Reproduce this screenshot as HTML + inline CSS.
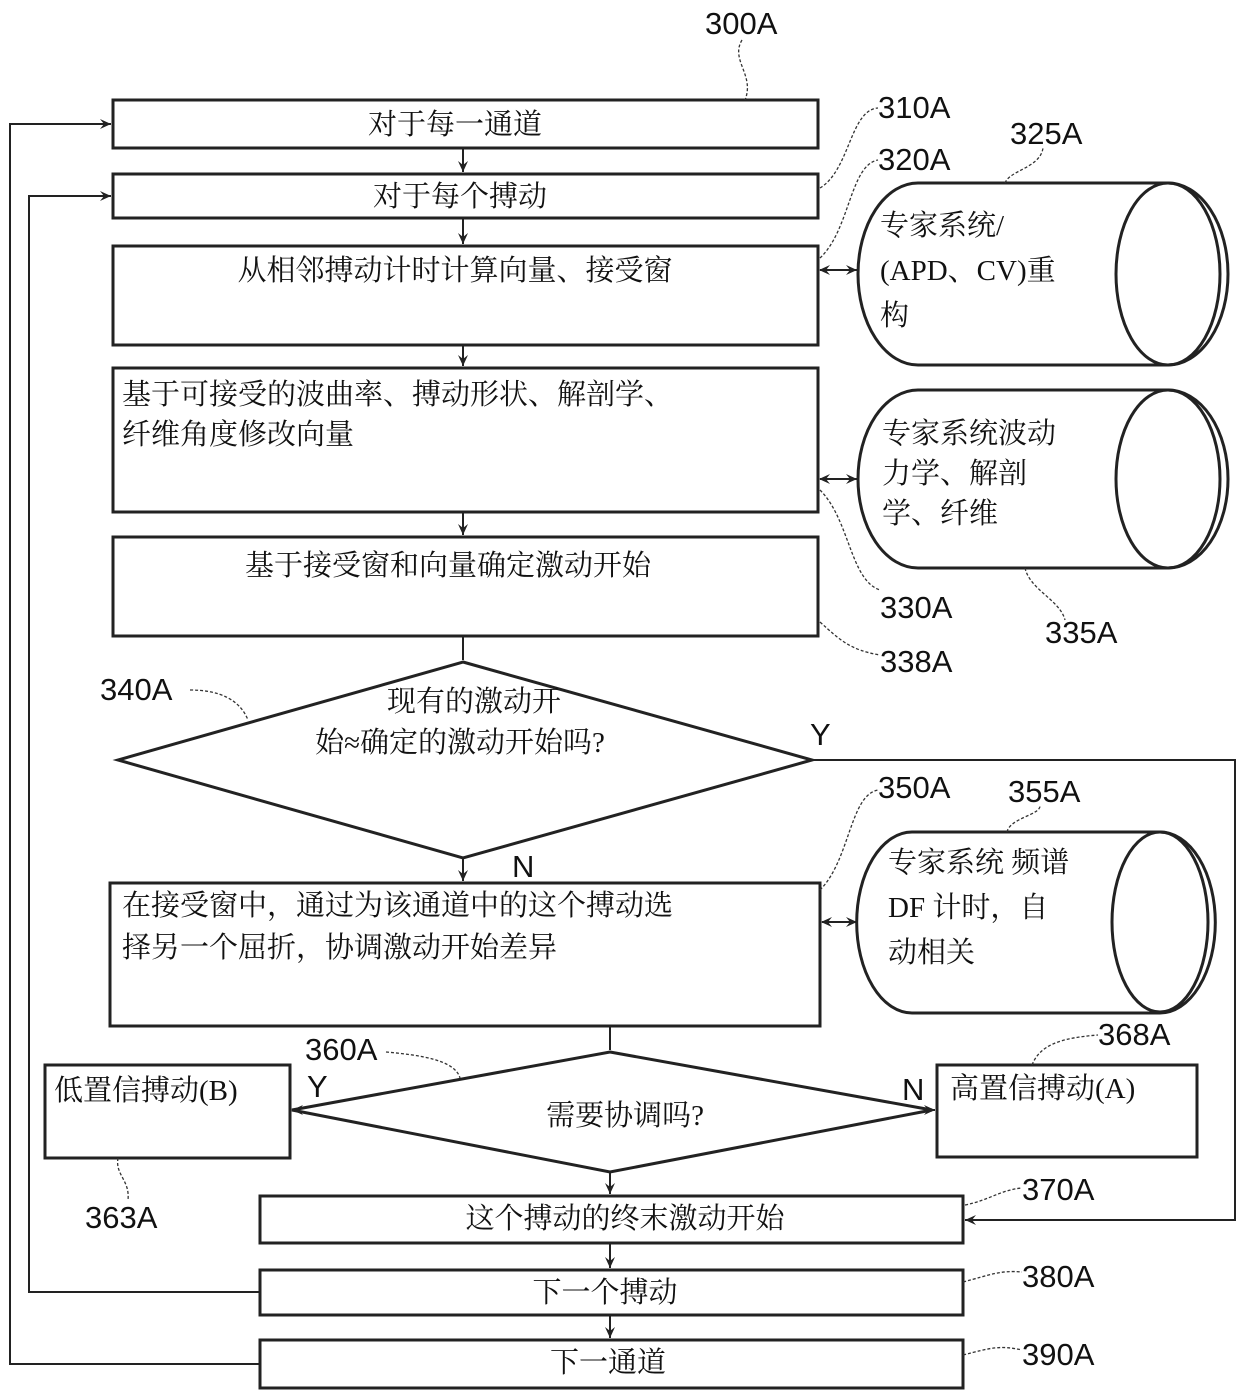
<!DOCTYPE html>
<html><head><meta charset="utf-8"><style>
html,body{margin:0;padding:0;background:#fff;}
svg{display:block;}
text{font-family:"Liberation Serif","Noto Serif CJK SC","Noto Sans CJK SC",serif;fill:#111;}
.lab{font-family:"Liberation Sans","DejaVu Sans",sans-serif;font-size:31px;}
.t{font-size:29px;}
</style></head><body>
<svg width="1240" height="1395" viewBox="0 0 1240 1395" xmlns="http://www.w3.org/2000/svg">
<defs>
<marker id="a" markerWidth="12" markerHeight="12" refX="11" refY="6" orient="auto" markerUnits="userSpaceOnUse">
<path d="M0,1 L11,6 L0,11 L4,6 Z" fill="#222"/></marker>
<marker id="as" markerWidth="12" markerHeight="12" refX="1" refY="6" orient="auto" markerUnits="userSpaceOnUse">
<path d="M11,1 L0,6 L11,11 L7,6 Z" fill="#222"/></marker>
</defs>
<g fill="none" stroke="#222" stroke-width="3">
<!-- boxes -->
<rect x="113" y="100" width="705" height="48"/>
<rect x="113" y="174" width="705" height="44"/>
<rect x="113" y="246" width="705" height="99"/>
<rect x="113" y="368" width="705" height="144"/>
<rect x="113" y="537" width="705" height="99"/>
<rect x="110" y="883" width="710" height="143"/>
<rect x="45" y="1065" width="245" height="93"/>
<rect x="937" y="1065" width="260" height="92"/>
<rect x="260" y="1196" width="703" height="47"/>
<rect x="260" y="1270" width="703" height="45"/>
<rect x="260" y="1340" width="703" height="48"/>
<!-- diamonds -->
<path d="M463,662 L812,760 L463,858 L118,760 Z"/>
<path d="M610,1052 L932,1110 L610,1172 L292,1110 Z"/>
<!-- cylinders -->
<path d="M918,183 L1168,183 A60,91 0 0 1 1168,365 L918,365 A60,91 0 0 1 918,183 Z"/>
<ellipse cx="1168" cy="274" rx="52" ry="91"/>
<path d="M918,390 L1168,390 A60,89 0 0 1 1168,568 L918,568 A60,89 0 0 1 918,390 Z"/>
<ellipse cx="1168" cy="479" rx="52" ry="89"/>
<path d="M912,832 L1160,832 A55,90 0 0 1 1160,1013 L912,1013 A55,90 0 0 1 912,832 Z"/>
<ellipse cx="1160" cy="922" rx="48" ry="90"/>
</g>
<g fill="none" stroke="#222" stroke-width="2">
<!-- vertical flow arrows -->
<line x1="463" y1="148" x2="463" y2="172" marker-end="url(#a)"/>
<line x1="463" y1="218" x2="463" y2="244" marker-end="url(#a)"/>
<line x1="463" y1="345" x2="463" y2="366" marker-end="url(#a)"/>
<line x1="463" y1="512" x2="463" y2="535" marker-end="url(#a)"/>
<line x1="463" y1="636" x2="463" y2="660"/>
<line x1="463" y1="858" x2="463" y2="881" marker-end="url(#a)"/>
<line x1="610" y1="1026" x2="610" y2="1050"/>
<line x1="610" y1="1172" x2="610" y2="1194" marker-end="url(#a)"/>
<line x1="610" y1="1243" x2="610" y2="1268" marker-end="url(#a)"/>
<line x1="610" y1="1315" x2="610" y2="1338" marker-end="url(#a)"/>
<!-- diamond 2 side arrows -->
<line x1="292" y1="1110" x2="292" y2="1110"/>
<line x1="300" y1="1110" x2="292" y2="1110" marker-end="url(#a)"/>
<line x1="925" y1="1110" x2="935" y2="1110" marker-end="url(#a)"/>
<!-- Y loop -->
<polyline points="812,760 1235,760 1235,1220 965,1220" marker-end="url(#a)"/>
<!-- left loops -->
<polyline points="260,1292 29,1292 29,196 111,196" marker-end="url(#a)"/>
<polyline points="260,1364 10,1364 10,124 111,124" marker-end="url(#a)"/>
<!-- double arrows to cylinders -->
<line x1="820" y1="270" x2="857" y2="270" marker-start="url(#as)" marker-end="url(#a)"/>
<line x1="820" y1="479" x2="857" y2="479" marker-start="url(#as)" marker-end="url(#a)"/>
<line x1="822" y1="922" x2="857" y2="922" marker-start="url(#as)" marker-end="url(#a)"/>
</g>
<!-- leader lines -->
<g fill="none" stroke="#333" stroke-width="1.3" stroke-dasharray="3,2">
<path d="M742,40 C730,60 755,75 745,100"/>
<path d="M820,188 C850,170 850,110 878,108"/>
<path d="M820,258 C850,230 850,165 878,160"/>
<path d="M1005,183 C1010,170 1040,168 1043,148"/>
<path d="M820,490 C850,520 850,580 880,590"/>
<path d="M1025,568 C1030,590 1060,600 1065,620"/>
<path d="M820,622 C840,640 850,650 880,655"/>
<path d="M190,690 C220,690 240,700 248,720"/>
<path d="M820,890 C850,860 850,795 878,790"/>
<path d="M1007,832 C1010,818 1040,815 1040,806"/>
<path d="M386,1052 C420,1055 455,1060 460,1078"/>
<path d="M1032,1065 C1040,1045 1060,1038 1098,1035"/>
<path d="M118,1158 C115,1175 130,1180 128,1200"/>
<path d="M965,1205 C990,1200 1000,1190 1022,1188"/>
<path d="M963,1282 C990,1275 1000,1270 1022,1272"/>
<path d="M963,1355 C990,1348 1000,1345 1022,1350"/>
</g>
<!-- ref labels -->
<text class="lab" x="705" y="34">300A</text>
<text class="lab" x="878" y="118">310A</text>
<text class="lab" x="878" y="170">320A</text>
<text class="lab" x="1010" y="144">325A</text>
<text class="lab" x="880" y="618">330A</text>
<text class="lab" x="1045" y="643">335A</text>
<text class="lab" x="880" y="672">338A</text>
<text class="lab" x="100" y="700">340A</text>
<text class="lab" x="878" y="798">350A</text>
<text class="lab" x="1008" y="802">355A</text>
<text class="lab" x="305" y="1060">360A</text>
<text class="lab" x="1098" y="1045">368A</text>
<text class="lab" x="85" y="1228">363A</text>
<text class="lab" x="1022" y="1200">370A</text>
<text class="lab" x="1022" y="1287">380A</text>
<text class="lab" x="1022" y="1365">390A</text>
<text class="lab" x="810" y="745">Y</text>
<text class="lab" x="512" y="877">N</text>
<text class="lab" x="307" y="1097">Y</text>
<text class="lab" x="902" y="1100">N</text>
<!-- node texts -->
<text class="t" x="455" y="134" text-anchor="middle">对于每一通道</text>
<text class="t" x="460" y="206" text-anchor="middle">对于每个搏动</text>
<text class="t" x="455" y="280" text-anchor="middle">从相邻搏动计时计算向量、接受窗</text>
<text class="t" x="122" y="404">基于可接受的波曲率、搏动形状、解剖学、</text>
<text class="t" x="122" y="444">纤维角度修改向量</text>
<text class="t" x="448" y="575" text-anchor="middle">基于接受窗和向量确定激动开始</text>
<text class="t" x="474" y="711" text-anchor="middle">现有的激动开</text>
<text class="t" x="460" y="752" text-anchor="middle">始≈确定的激动开始吗?</text>
<text class="t" x="122" y="915">在接受窗中，通过为该通道中的这个搏动选</text>
<text class="t" x="122" y="957">择另一个屈折，协调激动开始差异</text>
<text class="t" x="54" y="1100">低置信搏动(B)</text>
<text class="t" x="950" y="1098">高置信搏动(A)</text>
<text class="t" x="625" y="1125" text-anchor="middle">需要协调吗?</text>
<text class="t" x="625" y="1228" text-anchor="middle">这个搏动的终末激动开始</text>
<text class="t" x="605" y="1302" text-anchor="middle">下一个搏动</text>
<text class="t" x="608" y="1372" text-anchor="middle">下一通道</text>
<text class="t" x="880" y="235">专家系统/</text>
<text class="t" x="880" y="280">(APD、CV)重</text>
<text class="t" x="880" y="325">构</text>
<text class="t" x="882" y="443">专家系统波动</text>
<text class="t" x="882" y="483">力学、解剖</text>
<text class="t" x="882" y="523">学、纤维</text>
<text class="t" x="888" y="872">专家系统  频谱</text>
<text class="t" x="888" y="917">DF    计时，自</text>
<text class="t" x="888" y="962">动相关</text>
</svg>
</body></html>
